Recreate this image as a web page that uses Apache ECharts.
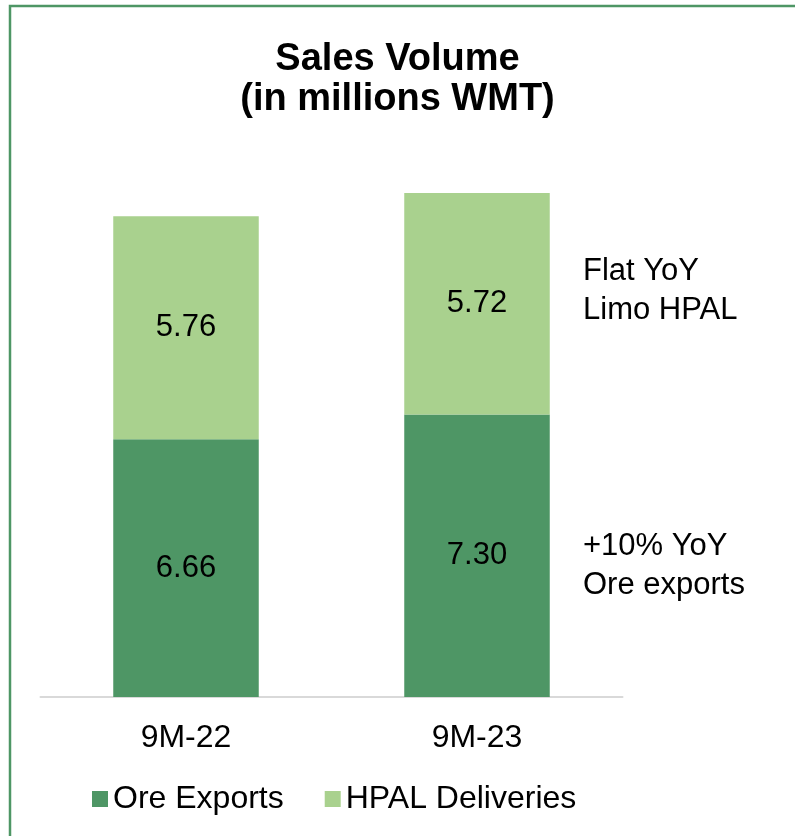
<!DOCTYPE html>
<html>
<head>
<meta charset="utf-8">
<script src="https://cdn.jsdelivr.net/npm/echarts@6/dist/echarts.min.js"></script>
<style>
  html, body { margin: 0; padding: 0; background: #fff; }
  #chart { width: 795px; height: 836px; }
</style>
</head>
<body>
<div id="chart"></div>
<script>
// data
const periods = ["9M-22", "9M-23"];
const oreExports = [6.66, 7.30];
const hpalDeliveries = [5.76, 5.72];
const notes = ["Flat YoY\nLimo HPAL", "+10% YoY\nOre exports"];

const darkGreen = "#4e9665";
const lightGreen = "#a9d18e";
const font = "Liberation Sans, Arial, sans-serif";

const chart = echarts.init(document.getElementById("chart"));

const valueLabel = {
  show: true,
  position: "inside",
  color: "#000",
  fontSize: 31,
  fontFamily: font,
  formatter: (p) => p.value.toFixed(2),
};

const option = {
  backgroundColor: "#fff",
  animation: false,
  title: {
    text: "Sales Volume\n(in millions WMT)",
    left: "center",
    top: 35,
    textStyle: {
      fontFamily: font,
      fontSize: 38,
      fontWeight: "bold",
      lineHeight: 40,
      color: "#000",
    },
  },
  legend: {
    left: 92,
    top: 783,
    padding: 0,
    itemWidth: 16,
    itemHeight: 16,
    itemGap: 41,
    icon: "rect",
    textStyle: { fontFamily: font, fontSize: 32, color: "#000" },
    data: ["Ore Exports", "HPAL Deliveries"],
  },
  grid: { left: 40.5, right: 172.5, top: 155, bottom: 139 },
  xAxis: {
    type: "category",
    data: periods,
    axisTick: { show: false },
    axisLine: { lineStyle: { color: "#d9d9d9", width: 2 } },
    axisLabel: { fontFamily: font, fontSize: 32, color: "#000", margin: 25 },
  },
  yAxis: {
    type: "value",
    min: 0,
    max: 14,
    show: false,
    splitLine: { show: false },
  },
  series: [
    {
      name: "Ore Exports",
      type: "bar",
      stack: "total",
      barWidth: "50%",
      itemStyle: { color: darkGreen },
      label: valueLabel,
      data: oreExports,
    },
    {
      name: "HPAL Deliveries",
      type: "bar",
      stack: "total",
      barWidth: "50%",
      itemStyle: { color: lightGreen },
      label: valueLabel,
      data: hpalDeliveries,
    },
  ],
  graphic: [
    {
      type: "rect",
      shape: { x: 10, y: 6, width: 900, height: 900 },
      style: { fill: "none", stroke: darkGreen, lineWidth: 2.5 },
      silent: true,
    },
    {
      type: "text",
      left: 583,
      top: 252,
      style: { text: notes[0], font: "31px " + font, lineHeight: 39, fill: "#000" },
    },
    {
      type: "text",
      left: 583,
      top: 527,
      style: { text: notes[1], font: "31px " + font, lineHeight: 39, fill: "#000" },
    },
  ],
};

chart.setOption(option);
</script>
</body>
</html>
